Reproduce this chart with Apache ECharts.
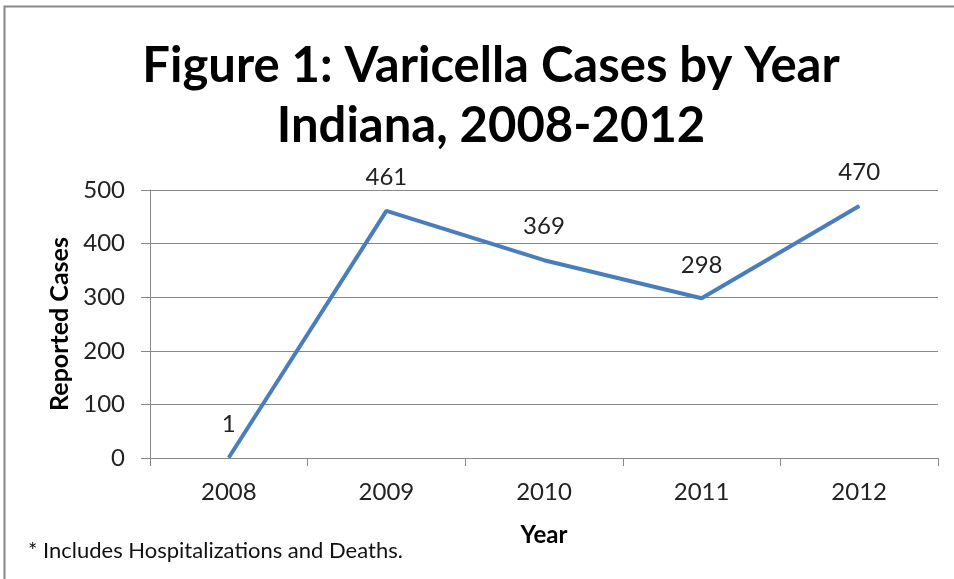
<!DOCTYPE html>
<html>
<head>
<meta charset="utf-8">
<script src="https://cdn.jsdelivr.net/npm/echarts@6/dist/echarts.min.js"></script>
<style>
    html, body { margin: 0; padding: 0; background: #fff; }
    #chart_varicella { width: 954px; height: 579px; }
</style>
</head>
<body>
<div id="chart_varicella"></div>
<script>
var years = ['2008', '2009', '2010', '2011', '2012'];
var reportedCases = [1, 461, 369, 298, 470];
var yTicks = [0, 100, 200, 300, 400, 500];

var fontFamily = 'Lato, "Open Sans", sans-serif';
var chart_varicella = echarts.init(document.getElementById('chart_varicella'));

var option = {
    backgroundColor: '#ffffff',
    animation: false,
    title: {
        text: 'Figure 1: Varicella Cases by Year\nIndiana, 2008-2012',
        left: 486,
        top: 31,
        textAlign: 'center',
        textStyle: {
            fontFamily: fontFamily,
            fontSize: 49,
            fontWeight: 'bold',
            color: '#000',
            lineHeight: 60
        }
    },
    grid: {
        left: 150,
        right: 16,
        top: 190,
        bottom: 121
    },
    xAxis: {
        type: 'category',
        data: years,
        boundaryGap: true,
        name: 'Year',
        nameLocation: 'middle',
        nameGap: 65,
        nameTextStyle: {
            fontFamily: fontFamily,
            fontSize: 24,
            fontWeight: 'bold',
            color: '#000'
        },
        axisLine: { lineStyle: { color: '#888', width: 1 } },
        axisTick: { show: true, alignWithLabel: false, length: 8, lineStyle: { color: '#888' } },
        axisLabel: {
            margin: 22,
            fontFamily: fontFamily,
            fontSize: 24,
            color: '#222'
        }
    },
    yAxis: {
        type: 'value',
        min: 0,
        max: yTicks[yTicks.length - 1],
        interval: 100,
        name: 'Reported Cases',
        nameLocation: 'middle',
        nameGap: 76,
        nameTextStyle: {
            fontFamily: fontFamily,
            fontSize: 25,
            fontWeight: 'bold',
            color: '#000'
        },
        axisLine: { show: true, lineStyle: { color: '#888', width: 1 } },
        axisTick: { show: true, length: 9, lineStyle: { color: '#888' } },
        axisLabel: {
            margin: 25,
            fontFamily: fontFamily,
            fontSize: 24,
            color: '#222'
        },
        splitLine: { show: true, lineStyle: { color: '#888', width: 1 } }
    },
    series: [
        {
            name: 'Reported Cases',
            type: 'line',
            data: reportedCases,
            symbol: 'circle',
            symbolSize: 1,
            showSymbol: true,
            lineStyle: { color: '#4A7EBB', width: 4 },
            itemStyle: { color: '#4A7EBB' },
            label: {
                show: true,
                position: 'top',
                distance: 21,
                fontFamily: fontFamily,
                fontSize: 24,
                color: '#222'
            }
        }
    ],
    graphic: [
        {
            type: 'rect',
            shape: { x: 4.5, y: 6.5, width: 1000, height: 1000 },
            style: { fill: 'none', stroke: '#888', lineWidth: 2 },
            silent: true
        },
        {
            type: 'text',
            left: 28,
            top: 540,
            style: {
                text: '* Includes Hospitalizations and Deaths.',
                fontFamily: fontFamily,
                fontSize: 22,
                fill: '#111'
            }
        }
    ]
};
chart_varicella.setOption(option);
</script>
</body>
</html>
